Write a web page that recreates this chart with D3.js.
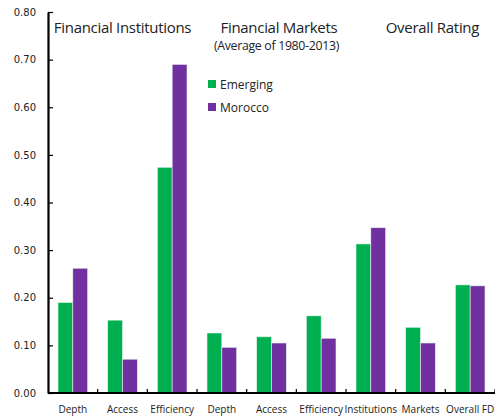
<!DOCTYPE html>
<html>
<head>
<meta charset="utf-8">
<script src="https://cdn.jsdelivr.net/npm/d3@7"></script>
<style>
  body { margin: 0; background: #fff; }
  text { fill: #222; }
</style>
</head>
<body>
<div id="chart"></div>
<script>
// data
var categories = ["Depth", "Access", "Efficiency", "Depth", "Access", "Efficiency", "Institutions", "Markets", "Overall FD"];
var seriesNames = ["Emerging", "Morocco"];
var emerging = [0.190, 0.153, 0.474, 0.126, 0.118, 0.162, 0.313, 0.138, 0.227];
var morocco  = [0.262, 0.071, 0.690, 0.096, 0.105, 0.115, 0.347, 0.105, 0.225];
var yTicks = [0, 0.1, 0.2, 0.3, 0.4, 0.5, 0.6, 0.7, 0.8];
var colors = ["#00b050", "#7030a0"];

var width = 495, height = 416;
var margin = {top: 12, right: 0, bottom: 23, left: 48};
var graphWidth = width - margin.left - margin.right;
var graphHeight = height - margin.top - margin.bottom;

var svg = d3.select("#chart")
  .append("svg")
  .attr("width", width)
  .attr("height", height)
  .append("g")
  .attr("transform", "translate(" + margin.left + "," + margin.top + ")");

var x0 = d3.scaleBand()
  .domain(d3.range(categories.length))
  .range([0, graphWidth]);

var x1 = d3.scaleBand()
  .domain(seriesNames)
  .range([10, x0.bandwidth() - 10]);

var y = d3.scaleLinear()
  .domain([0, 0.8])
  .range([graphHeight, 0]);

// y axis
var yAxis = svg.append("g")
  .call(d3.axisLeft(y)
    .tickValues(yTicks)
    .tickFormat(d3.format(".2f"))
    .tickSizeInner(-5)
    .tickSizeOuter(0)
    .tickPadding(12));
yAxis.select(".domain").attr("stroke", "#000").attr("stroke-width", 2.2);
yAxis.selectAll(".tick line").attr("stroke", "#000").attr("stroke-width", 1.2);
yAxis.selectAll(".tick text")
  .style("font-family", "DejaVu Sans")
  .style("font-size", "10px")
  .attr("fill", "#333");

// bars
var values = [emerging, morocco];
seriesNames.forEach(function(s, si) {
  svg.selectAll(".bar" + si)
    .data(values[si])
    .enter()
    .append("rect")
    .attr("class", "bar" + si)
    .attr("x", function(d, i) { return x0(i) + x1(s); })
    .attr("width", x1.bandwidth())
    .attr("y", function(d) { return y(d); })
    .attr("height", function(d) { return graphHeight - y(d); })
    .style("fill", colors[si])
    .style("stroke", "#e8f5ec")
    .style("stroke-width", 0.6);
});

// x axis
var xAxis = svg.append("g")
  .attr("transform", "translate(0," + graphHeight + ")");
xAxis.append("line")
  .attr("x1", 0).attr("x2", graphWidth)
  .attr("stroke", "#000").attr("stroke-width", 2.2);
xAxis.selectAll(".xtick")
  .data(d3.range(1, categories.length + 1))
  .enter()
  .append("line")
  .attr("x1", function(d) { return x0.step() * d; })
  .attr("x2", function(d) { return x0.step() * d; })
  .attr("y1", 0).attr("y2", -4)
  .attr("stroke", "#000").attr("stroke-width", 1.2);
xAxis.selectAll(".xlabel")
  .data(categories)
  .enter()
  .append("text")
  .attr("x", function(d, i) { return x0(i) + x0.bandwidth() / 2; })
  .attr("y", 20)
  .style("text-anchor", "middle")
  .style("font-family", "Open Sans")
  .style("font-size", "10px")
  .text(function(d) { return d; });

// group titles
var titles = [
  {t: "Financial Institutions", x: 1.5, y: 21, size: 15},
  {t: "Financial Markets", x: 4.65, y: 21, size: 15},
  {t: "(Average of 1980-2013)", x: 4.6, y: 38, size: 12.3},
  {t: "Overall Rating", x: 7.74, y: 21, size: 15}
];
svg.selectAll(".title")
  .data(titles)
  .enter()
  .append("text")
  .attr("x", function(d) { return x0.step() * d.x; })
  .attr("y", function(d) { return d.y; })
  .style("text-anchor", "middle")
  .style("font-family", "Open Sans")
  .style("font-size", function(d) { return d.size + "px"; })
  .style("letter-spacing", "-0.3px")
  .text(function(d) { return d.t; });

// legend
var legend = svg.selectAll(".legend")
  .data(seriesNames)
  .enter()
  .append("g")
  .attr("transform", function(d, i) { return "translate(160," + (68 + i * 23) + ")"; });
legend.append("rect")
  .attr("width", 8).attr("height", 8)
  .style("fill", function(d, i) { return colors[i]; });
legend.append("text")
  .attr("x", 12).attr("y", 8.5)
  .style("font-family", "Open Sans")
  .style("font-size", "12px")
  .text(function(d) { return d; });
</script>
</body>
</html>
